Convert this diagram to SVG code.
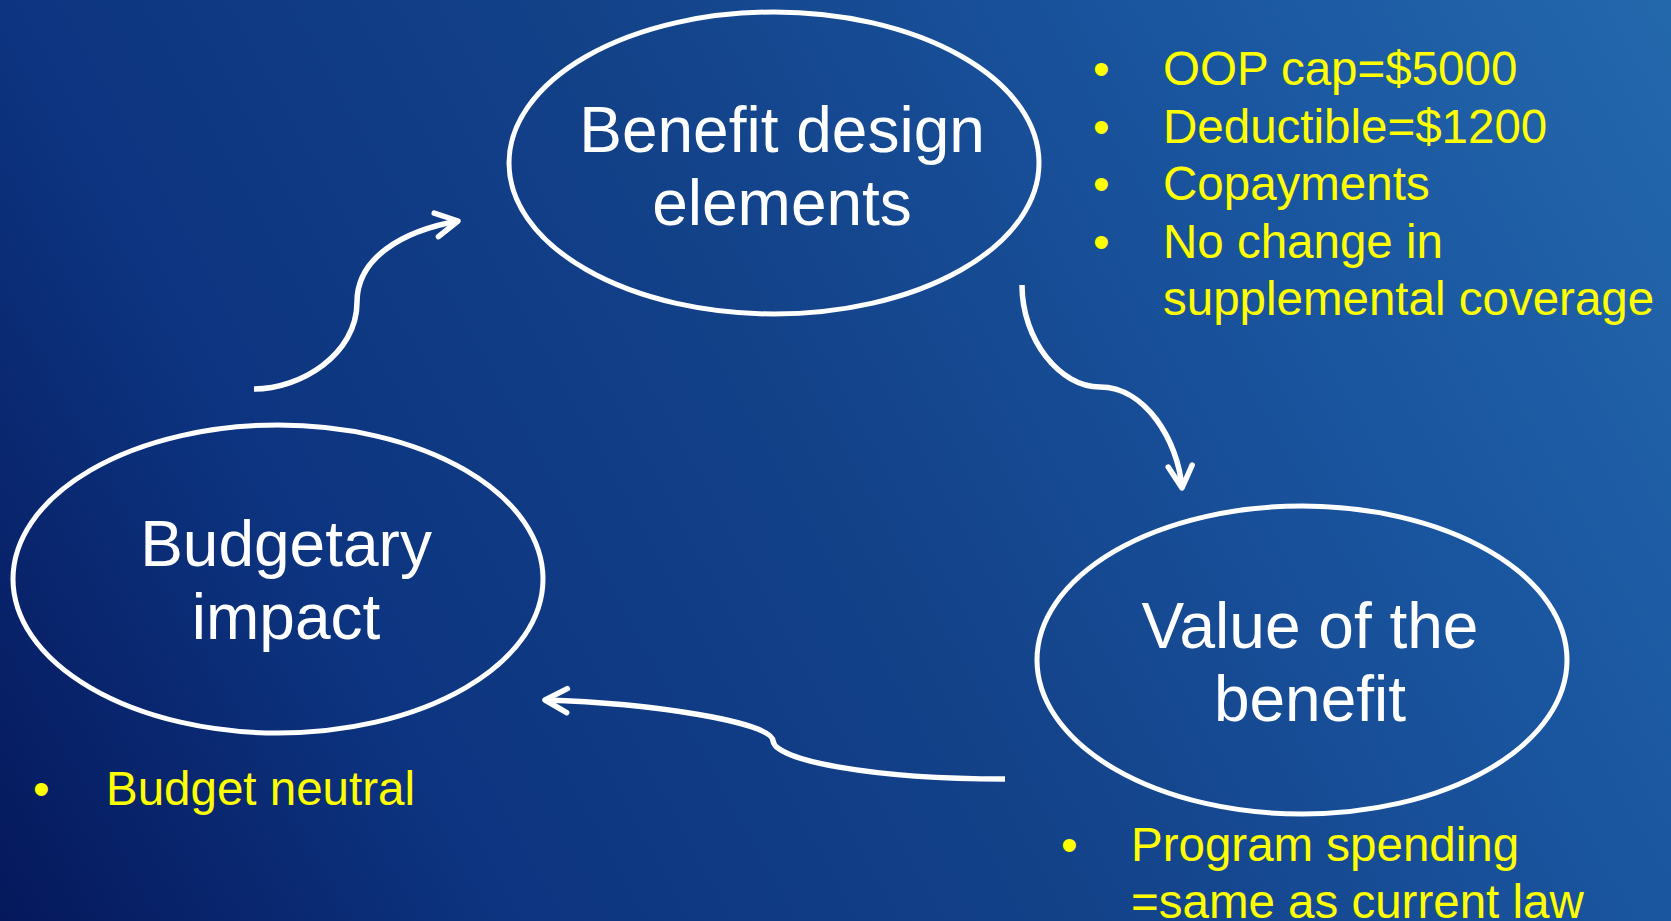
<svg xmlns="http://www.w3.org/2000/svg" width="1671" height="921" viewBox="0 0 1671 921">
<defs>
<linearGradient id="bg" gradientUnits="userSpaceOnUse" x1="0" y1="921" x2="1671" y2="0">
<stop offset="0" stop-color="#05185C"/>
<stop offset="0.23" stop-color="#0D3480"/>
<stop offset="0.5" stop-color="#134289"/>
<stop offset="0.77" stop-color="#1A56A0"/>
<stop offset="1" stop-color="#2468AC"/>
</linearGradient>
<marker id="arr" markerUnits="userSpaceOnUse" markerWidth="40" markerHeight="40" viewBox="-30 -20 40 40" refX="0" refY="0" orient="auto" overflow="visible">
<path d="M-22,-12 L0,0 L-22,12" fill="none" stroke="#fff" stroke-width="5.5" stroke-linecap="round" stroke-linejoin="round"/>
</marker>
<style>
.node{fill:none;stroke:#fff;stroke-width:5}
.title{font-family:"Liberation Sans",Arial,sans-serif;font-size:64px;fill:#fff;text-anchor:middle}
.note{font-family:"Liberation Sans",Arial,sans-serif;font-size:47.5px;fill:#FFFF00}
.conn{fill:none;stroke:#fff;stroke-width:5.5;marker-end:url(#arr)}
</style>
</defs>
<rect x="0" y="0" width="1671" height="921" fill="url(#bg)"/>
<g id="connectors">
<path class="conn" d="M254,389 C300,389 357,355 357,302 C357,258 402,231 458,221"/>
<path class="conn" d="M1022,285 C1022,340 1060,387 1100,387 C1145,387 1178,440 1182,488"/>
<path class="conn" d="M1005,779 C870,779 775,760 773,741 C773,722 650,703 545,700"/>
</g>
<g id="node-benefit-design">
<ellipse class="node" cx="774" cy="163" rx="265" ry="151"/>
<text class="title" x="782" y="152">Benefit design</text>
<text class="title" x="782" y="225">elements</text>
</g>
<g id="node-budgetary-impact">
<ellipse class="node" cx="278" cy="579" rx="265" ry="154"/>
<text class="title" x="286" y="566">Budgetary</text>
<text class="title" x="286" y="639">impact</text>
</g>
<g id="node-value-benefit">
<ellipse class="node" cx="1302" cy="660" rx="265" ry="154"/>
<text class="title" x="1310" y="648">Value of the</text>
<text class="title" x="1310" y="721">benefit</text>
</g>
<g id="notes-benefit-design">
<text class="note" x="1093" y="85">•</text><text class="note" x="1163" y="85">OOP cap=$5000</text>
<text class="note" x="1093" y="143">•</text><text class="note" x="1163" y="143">Deductible=$1200</text>
<text class="note" x="1093" y="200">•</text><text class="note" x="1163" y="200">Copayments</text>
<text class="note" x="1093" y="258">•</text><text class="note" x="1163" y="258">No change in</text>
<text class="note" x="1163" y="315">supplemental coverage</text>
</g>
<g id="notes-budgetary">
<text class="note" x="33" y="805">•</text><text class="note" x="106" y="805">Budget neutral</text>
</g>
<g id="notes-value">
<text class="note" x="1061" y="861">•</text><text class="note" x="1131" y="861">Program spending</text>
<text class="note" x="1131" y="918">=same as current law</text>
</g>
</svg>
